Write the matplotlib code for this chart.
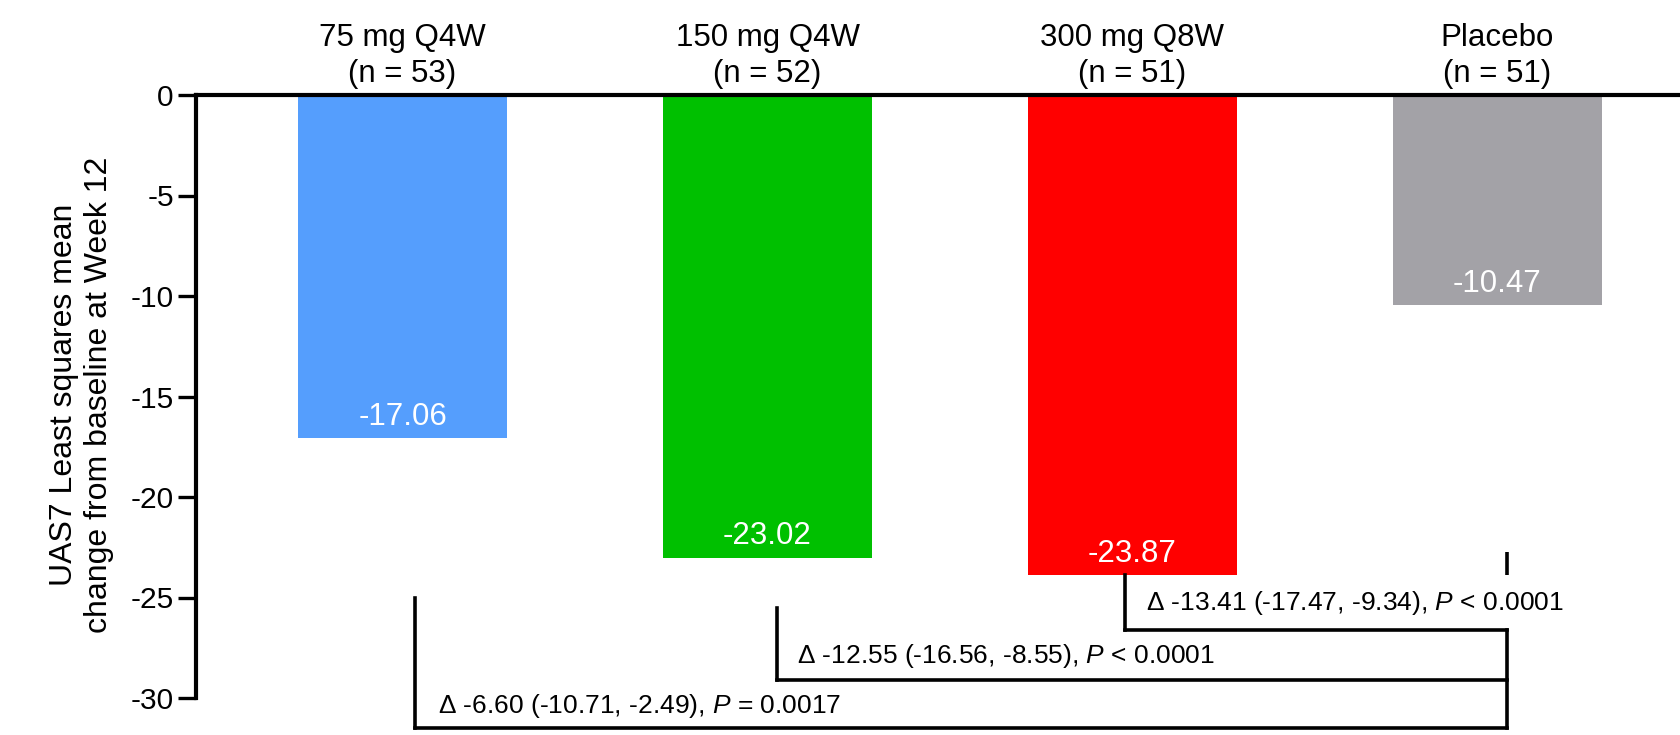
import matplotlib
matplotlib.use("Agg")
import matplotlib.pyplot as plt

plt.rcParams["font.family"] = ["Liberation Sans", "DejaVu Sans"]
plt.rcParams["axes.unicode_minus"] = False
plt.rcParams["mathtext.fontset"] = "custom"
plt.rcParams["mathtext.rm"] = "Liberation Sans"
plt.rcParams["mathtext.it"] = "Liberation Sans:italic"

# Treatment arms and LS mean change from baseline
groups = ["75 mg Q4W", "150 mg Q4W", "300 mg Q8W", "Placebo"]
n_patients = [53, 52, 51, 51]
ls_mean_change = [-17.06, -23.02, -23.87, -10.47]
bar_colors = ["#559EFD", "#00C000", "#FF0000", "#A3A2A7"]

# Differences vs placebo: estimate, 95% CI, p-value text
diff_estimates = [-6.60, -12.55, -13.41]
ci_lower = [-10.71, -16.56, -17.47]
ci_upper = [-2.49, -8.55, -9.34]
p_texts = ["= 0.0017", "< 0.0001", "< 0.0001"]

yticks = [0, -5, -10, -15, -20, -25, -30]

W, H, DPI = 1681, 735, 100
fig = plt.figure(figsize=(W / DPI, H / DPI), dpi=DPI)
ax = fig.add_axes([196 / W, 1 - 698 / H, 1 - 196 / W, (698 - 95) / H])

x = list(range(len(groups)))
ax.bar(x, ls_mean_change, width=0.572, color=bar_colors, zorder=2)

ax.set_xlim(-0.566, 3.503)
ax.set_ylim(-30, 0)

# value labels inside the bars, near their ends
for xi, v in zip(x, ls_mean_change):
    ax.text(xi, v + 0.66, f"{v:.2f}", ha="center", va="baseline",
            color="white", fontsize=22.5, zorder=3)

# group headers above the zero line (two baselines)
for xi, g, n in zip(x, groups, n_patients):
    ax.text(xi, 2.42, g, ha="center", va="baseline", fontsize=22.5,
            clip_on=False)
    ax.text(xi, 0.66, f"(n = {n})", ha="center", va="baseline",
            fontsize=22.5, clip_on=False)

# axes styling
for s in ["right", "bottom"]:
    ax.spines[s].set_visible(False)
ax.spines["left"].set_linewidth(3)
ax.spines["top"].set_linewidth(3)
ax.spines["left"].set_zorder(4)
ax.spines["top"].set_zorder(4)
ax.set_xticks([])
ax.set_yticks(yticks)
ax.set_yticklabels([str(t) for t in yticks], fontsize=21.5)
ax.tick_params(axis="y", length=13, width=2.4, pad=3)

# two-line y-axis title
ylab_lines = ["UAS7 Least squares mean", "change from baseline at Week 12"]
for xpx, line in zip([71.7, 106.7], ylab_lines):
    fig.text(xpx / W, 1 - 395 / H, line, rotation=90, rotation_mode="anchor",
             ha="center", va="baseline", fontsize=23)

# comparison brackets against placebo
lw = 2.6
placebo_x = 3 + 0.027
left_offsets = [0.035, 0.027, -0.02]
bracket_tops = [-25.0, -25.5, ls_mean_change[2]]
bracket_levels = [-31.5, -29.1, -26.6]
text_x = [0.096, 1.08, 2.037]
text_y = [-30.4, -27.9, -25.25]

kw = dict(color="black", lw=lw, clip_on=False, solid_capstyle="projecting")
for i in range(3):
    xl = i + left_offsets[i]
    ax.plot([xl, xl], [bracket_tops[i], bracket_levels[i]], **kw)
    ax.plot([xl, placebo_x], [bracket_levels[i], bracket_levels[i]], **kw)
    label = (f"\u0394 {diff_estimates[i]:.2f} ({ci_lower[i]:.2f}, "
             f"{ci_upper[i]:.2f}), $\\mathit{{P}}$ {p_texts[i]}")
    ax.text(text_x[i], text_y[i], label, ha="left", va="center",
            fontsize=19, clip_on=False)

ax.plot([placebo_x, placebo_x], [bracket_levels[2], bracket_levels[0]], **kw)
ax.plot([placebo_x, placebo_x], [-22.75, ls_mean_change[2]],
        color="black", lw=lw, clip_on=False, solid_capstyle="butt")

fig.savefig("out.png", dpi=DPI)
